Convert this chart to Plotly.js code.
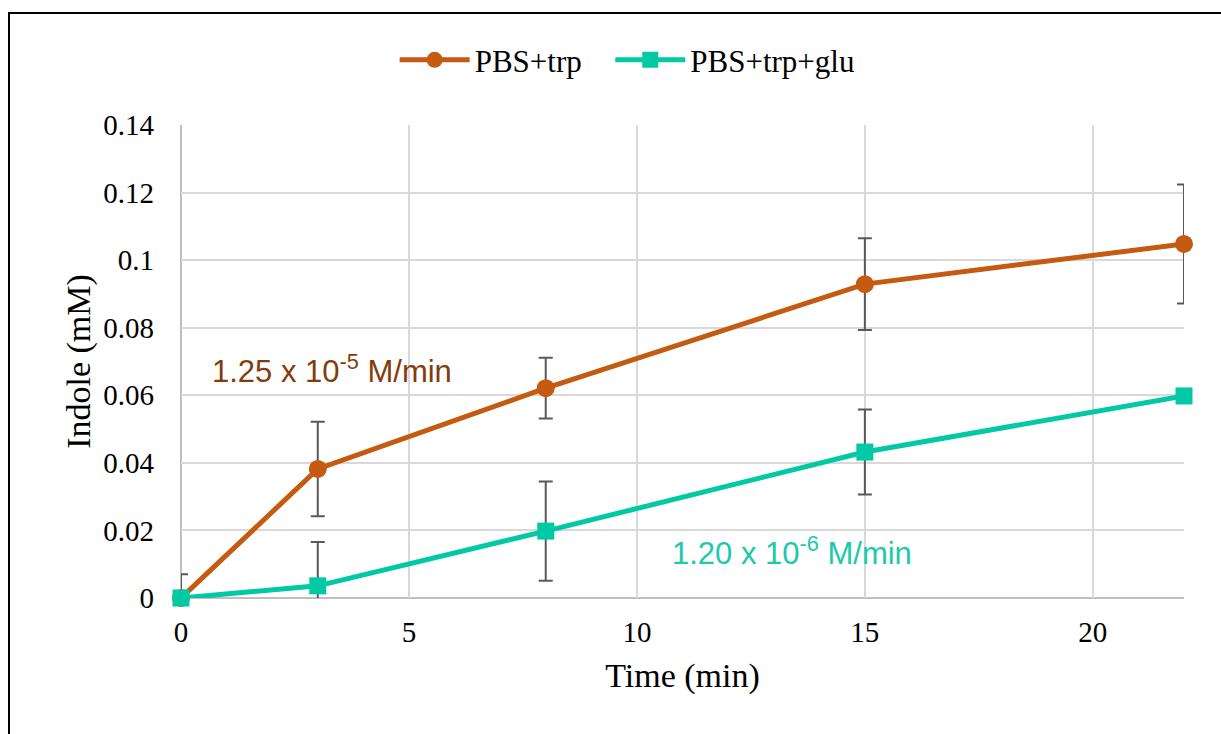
<!DOCTYPE html>
<html>
<head>
<meta charset="utf-8">
<script src="https://cdn.plot.ly/plotly-3.0.1.min.js"></script>
<style>
html,body{margin:0;padding:0;overflow:hidden;background:#fff;}
#chart{position:absolute;left:0;top:0;width:1221px;height:734px;}
#frame{position:absolute;left:8px;top:12px;width:1300px;height:800px;border:2px solid #000;box-sizing:border-box;pointer-events:none;}
</style>
</head>
<body>
<div id="chart"></div>
<div id="frame"></div>
<script>
const time = [0, 3, 8, 15, 22];
const pbsTrp = [0, 0.0382, 0.0621, 0.0929, 0.1048];
const pbsTrpErr = [0.007, 0.014, 0.009, 0.0136, 0.0176];
const pbsTrpGlu = [0, 0.0036, 0.0198, 0.0432, 0.0598];
const pbsTrpGluErr = [0, 0.013, 0.0147, 0.0126, 0];
const seriesNames = ['PBS+trp', 'PBS+trp+glu'];
const rateLabels = ['1.25 x 10<sup>-5</sup> M/min', '1.20 x 10<sup>-6</sup> M/min'];
const xTicks = [0, 5, 10, 15, 20];
const yTicks = [0, 0.02, 0.04, 0.06, 0.08, 0.1, 0.12, 0.14];

const orange = '#C55A11';
const teal = '#00C9A4';
const errColor = '#595959';

// error bars: first points clipped to the plot area (like the reference), last point unclipped
function errTrace(x, y, err, clip) {
  return {
    x: x, y: y, type: 'scatter', mode: 'markers',
    marker: {size: 1, opacity: 0},
    error_y: {type: 'data', array: err, visible: true, color: errColor, thickness: 2, width: 7},
    showlegend: false, hoverinfo: 'skip', cliponaxis: clip
  };
}
const n = time.length;

const traces = [
  errTrace(time.slice(0, n - 1), pbsTrp.slice(0, n - 1), pbsTrpErr.slice(0, n - 1), true),
  errTrace(time.slice(n - 1), pbsTrp.slice(n - 1), pbsTrpErr.slice(n - 1), false),
  errTrace(time.slice(0, n - 1), pbsTrpGlu.slice(0, n - 1), pbsTrpGluErr.slice(0, n - 1), true),
  errTrace(time.slice(n - 1), pbsTrpGlu.slice(n - 1), pbsTrpGluErr.slice(n - 1), false),
  {
    x: time, y: pbsTrp, type: 'scatter', mode: 'lines+markers', name: seriesNames[0],
    line: {color: orange, width: 5},
    marker: {symbol: 'circle', size: 18, color: orange},
    cliponaxis: false, legend: 'legend'
  },
  {
    x: time, y: pbsTrpGlu, type: 'scatter', mode: 'lines+markers', name: seriesNames[1],
    line: {color: teal, width: 5},
    marker: {symbol: 'square', size: 17, color: teal},
    cliponaxis: false, legend: 'legend2'
  }
];

const legendFont = {size: 31, family: '"Liberation Serif", serif', color: '#000'};

const layout = {
  width: 1221, height: 734,
  margin: {l: 181, r: 37, t: 125, b: 136},
  paper_bgcolor: 'rgba(0,0,0,0)', plot_bgcolor: '#fff',
  font: {family: '"Liberation Serif", "Times New Roman", serif', color: '#000', size: 29},
  showlegend: true,
  legend: {
    orientation: 'h', x: 0.213, xanchor: 'left', y: 1.137, yanchor: 'middle',
    font: legendFont, itemwidth: 70, bgcolor: 'rgba(0,0,0,0)'
  },
  legend2: {
    orientation: 'h', x: 0.428, xanchor: 'left', y: 1.137, yanchor: 'middle',
    font: legendFont, itemwidth: 70, bgcolor: 'rgba(0,0,0,0)'
  },
  xaxis: {
    range: [0, 22], tickvals: xTicks, ticktext: xTicks.map(String),
    showgrid: true, gridcolor: '#D9D9D9', gridwidth: 2,
    zeroline: false, showline: false, ticks: '',
    ticklabelstandoff: 14,
    tickfont: {size: 29},
    title: {text: 'Time (min)', font: {size: 34}, standoff: 16}
  },
  yaxis: {
    range: [0, 0.14], tickvals: yTicks, ticktext: ['0', '0.02', '0.04', '0.06', '0.08', '0.1', '0.12', '0.14'],
    showgrid: true, gridcolor: '#D9D9D9', gridwidth: 2,
    zeroline: false, showline: false, ticks: '',
    ticklabelstandoff: 26,
    tickfont: {size: 29},
    title: {text: 'Indole (mM)', font: {size: 34}, standoff: 2}
  },
  shapes: [
    {type: 'line', xref: 'paper', yref: 'paper', x0: 0, x1: 1, y0: 0, y1: 0, line: {color: '#BFBFBF', width: 2}, layer: 'below'},
    {type: 'line', xref: 'paper', yref: 'paper', x0: 0, x1: 0, y0: 0, y1: 1, line: {color: '#BFBFBF', width: 2}, layer: 'below'}
  ],
  annotations: [
    {x: 3.31, y: 0.0678, xref: 'x', yref: 'y', text: rateLabels[0], showarrow: false,
     font: {family: '"Liberation Sans", Arial, sans-serif', size: 31, color: '#843C0C'}},
    {x: 13.4, y: 0.0139, xref: 'x', yref: 'y', text: rateLabels[1], showarrow: false,
     font: {family: '"Liberation Sans", Arial, sans-serif', size: 31, color: '#1CC9A8'}}
  ]
};

Plotly.newPlot('chart', traces, layout, {displayModeBar: false, staticPlot: true});
</script>
</body>
</html>
